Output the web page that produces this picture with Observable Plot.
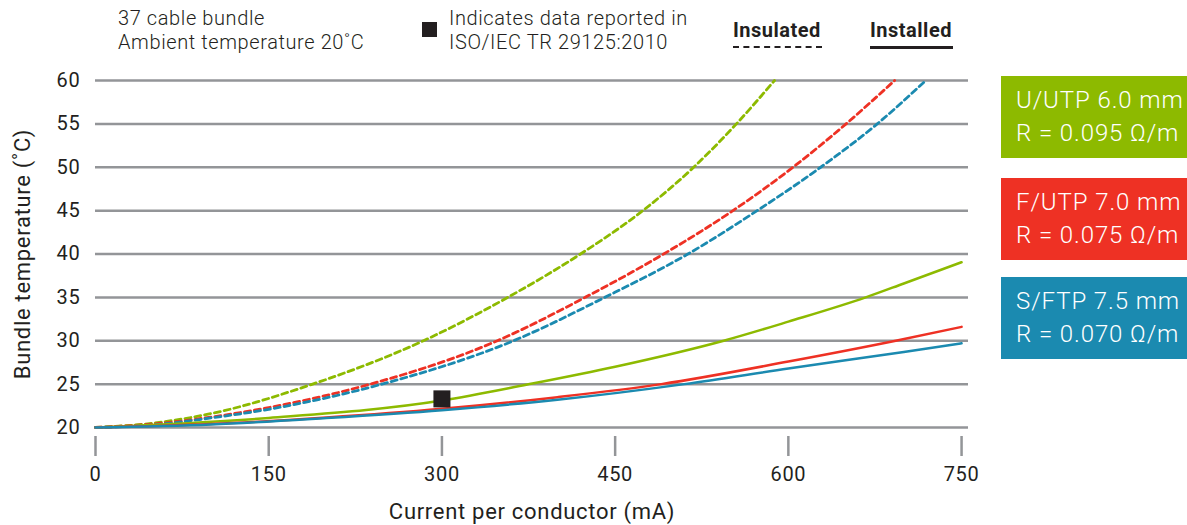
<!DOCTYPE html>
<html>
<head>
<meta charset="utf-8">
<script src="https://cdn.jsdelivr.net/npm/d3@7"></script>
<script src="https://cdn.jsdelivr.net/npm/@observablehq/plot@0.6"></script>
<style>
  html, body { margin: 0; padding: 0; background: #fff; }
  #wrap { position: relative; width: 1187px; height: 525px; font-family: Roboto, "Noto Sans", sans-serif; color: #231f20; overflow: hidden; }
  #chart { position: absolute; left: 0; top: 0; }
  #chart svg text { letter-spacing: 0.7px; }
  .abs { position: absolute; white-space: nowrap; }
  .note { font-size: 20px; line-height: 24px; letter-spacing: 0.6px; font-weight: 300; }
  .bold { font-weight: 700; font-size: 20px; letter-spacing: 0.5px; }
  .box { position: absolute; left: 1001px; width: 186px; height: 82px; color: #fff; font-size: 24px; line-height: 33px; letter-spacing: 0.9px; font-weight: 300; box-sizing: border-box; padding: 8px 0 0 15px; white-space: nowrap; }
</style>
</head>
<body>
<div id="wrap">
  <div id="chart"></div>
</div>
<script>
// ---- data ----
const xTicks = [0, 150, 300, 450, 600, 750];
const yTicks = [20, 25, 30, 35, 40, 45, 50, 55, 60];

const seriesNames = ["U/UTP 6.0 mm", "F/UTP 7.0 mm", "S/FTP 7.5 mm"];
const seriesR = ["R = 0.095 Ω/m", "R = 0.075 Ω/m", "R = 0.070 Ω/m"];
const seriesColors = ["#8dba00", "#ee3124", "#1b8ab0"];

// Insulated (dashed): current (mA) and bundle temperature (°C)
const insUUTP_I = [0, 50, 100, 188, 284, 357, 420, 474, 518, 555, 588];
const insUUTP_T = [20, 20.5, 21.6, 25, 30, 35, 40, 45, 50, 55, 60];
const insFUTP_I = [0, 50, 100, 150, 238, 348, 424, 492, 552, 604, 650, 692];
const insFUTP_T = [20, 20.4, 21.2, 22.3, 25, 30, 35, 40, 45, 50, 55, 60];
const insSFTP_I = [0, 50, 100, 150, 248, 362, 441, 513, 573, 628, 677, 719];
const insSFTP_T = [20, 20.3, 21.1, 22.1, 25, 30, 35, 40, 45, 50, 55, 60];

// Installed (solid)
const instUUTP_I = [0, 150, 300, 374, 450, 544, 600, 667, 700, 750];
const instUUTP_T = [20, 21.1, 23.1, 24.95, 27.0, 30, 32.2, 35, 36.6, 39.05];
const instFUTP_I = [0, 100, 200, 300, 400, 490, 600, 693, 750];
const instFUTP_T = [20, 20.4, 21.15, 22.15, 23.5, 25, 27.6, 30, 31.6];
const instSFTP_I = [0, 100, 200, 300, 400, 510, 600, 700, 750];
const instSFTP_T = [20, 20.35, 21.1, 22.0, 23.2, 25, 26.8, 28.7, 29.7];

// ISO/IEC TR 29125:2010 reported point
const isoI = [300];
const isoT = [23.3];

// ---- build tables ----
function rows(I, T, s) { return I.map((v, i) => ({current: v, temp: T[i], series: s})); }
const insulated = [
  ...rows(insUUTP_I, insUUTP_T, 0),
  ...rows(insFUTP_I, insFUTP_T, 1),
  ...rows(insSFTP_I, insSFTP_T, 2)
];
const installed = [
  ...rows(instUUTP_I, instUUTP_T, 0),
  ...rows(instFUTP_I, instFUTP_T, 1),
  ...rows(instSFTP_I, instSFTP_T, 2)
];
const iso = isoI.map((v, i) => ({current: v, temp: isoT[i]}));

const gridColor = "#939598";
const font = 'Roboto, "Noto Sans", sans-serif';

const chart = Plot.plot({
  width: 1187,
  height: 525,
  marginLeft: 95,
  marginRight: 219,
  marginTop: 80,
  marginBottom: 98,
  style: {fontFamily: font, fontSize: "20px", color: "#231f20", background: "#fff", overflow: "visible"},
  x: {domain: [0, 756]},
  y: {domain: [20, 60]},
  color: {domain: [0, 1, 2], range: seriesColors},
  marks: [
    Plot.ruleY(yTicks, {stroke: gridColor, strokeWidth: 2.5}),
    Plot.axisY({ticks: yTicks, tickSize: 0, tickPadding: 15, fontSize: 20, label: null}),
    Plot.axisY({ticks: [], label: "Bundle temperature (˚C)", labelAnchor: "center", labelArrow: "none",
      labelOffset: 81, fontSize: 22}),
    Plot.axisX({ticks: xTicks, tickSize: 20, dy: 9, tickPadding: 10, stroke: gridColor, strokeWidth: 2.5, fontSize: 20, label: null}),
    Plot.axisX({ticks: [], label: "Current per conductor (mA)", labelAnchor: "center", labelArrow: "none",
      labelOffset: 91, fontSize: 22}),
    Plot.line(insulated, {x: "current", y: "temp", z: "series", stroke: "series", strokeWidth: 2.8,
      strokeDasharray: "6,4", curve: "monotone-x"}),
    Plot.line(installed, {x: "current", y: "temp", z: "series", stroke: "series", strokeWidth: 2.5,
      curve: "monotone-x"}),
    Plot.dot(iso, {x: "current", y: "temp", symbol: "square", r: 9.6, fill: "#231f20", stroke: "none"})
  ]
});
document.getElementById("chart").appendChild(chart);

// ---- header notes and legends (HTML) ----
const wrap = document.getElementById("wrap");
function add(html, cls, css) {
  const d = document.createElement("div");
  d.className = cls;
  d.innerHTML = html;
  Object.assign(d.style, css);
  wrap.appendChild(d);
  return d;
}
add("37 cable bundle<br>Ambient temperature 20˚C", "abs note", {left: "118px", top: "6px"});
add("", "abs", {left: "422px", top: "22px", width: "15px", height: "15px", background: "#231f20"});
add("Indicates data reported in<br>ISO/IEC TR 29125:2010", "abs note", {left: "449px", top: "6px"});
add("Insulated", "abs bold", {left: "733px", top: "18px"});
add("", "abs", {left: "733px", top: "46px", width: "89px", height: "0", borderTop: "2.5px dashed #231f20"});
add("Installed", "abs bold", {left: "870px", top: "18px"});
add("", "abs", {left: "870px", top: "46px", width: "83px", height: "2.5px", background: "#231f20"});

const boxTops = [76, 178, 277];
seriesNames.forEach((n, i) => {
  add(n + "<br>" + seriesR[i], "box", {top: boxTops[i] + "px", background: seriesColors[i]});
});
</script>
</body>
</html>
